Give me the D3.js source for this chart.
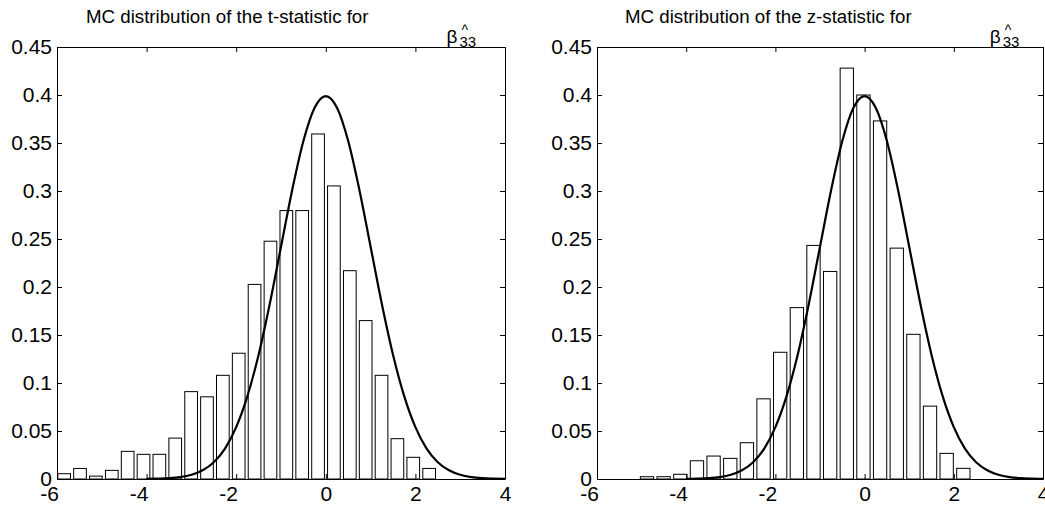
<!DOCTYPE html>
<html>
<head>
<meta charset="utf-8">
<script src="https://cdn.jsdelivr.net/npm/d3@7"></script>
<style>
  html, body { margin: 0; padding: 0; background: #fff; }
  svg { display: block; font-family: Arial, "Liberation Sans", Helvetica, sans-serif; }
</style>
</head>
<body>
<svg width="1045" height="510"></svg>
<script>
const xTicks = [-6, -4, -2, 0, 2, 4];
const xTickLabels = ['-6', '-4', '-2', '0', '2', '4'];
const yTicks = [0, 0.05, 0.1, 0.15, 0.2, 0.25, 0.3, 0.35, 0.4, 0.45];
const yTickLabels = ['0', '0.05', '0.1', '0.15', '0.2', '0.25', '0.3', '0.35', '0.4', '0.45'];

// t-statistic histogram (bin centres, density)
const tCenters = [-5.840, -5.486, -5.132, -4.777, -4.423, -4.069, -3.715, -3.361,
  -3.006, -2.652, -2.298, -1.944, -1.590, -1.235, -0.881, -0.527, -0.173, 0.181,
  0.536, 0.890, 1.244, 1.598, 1.952, 2.307];
const tDensity = [0.0055, 0.011, 0.003, 0.009, 0.0288, 0.0257, 0.0257, 0.0426,
  0.091, 0.0856, 0.108, 0.131, 0.2027, 0.2477, 0.2796, 0.2796, 0.3594, 0.3053,
  0.217, 0.165, 0.108, 0.042, 0.0226, 0.011];

// z-statistic histogram
const zCenters = [-4.879, -4.506, -4.132, -3.759, -3.386, -3.012, -2.639, -2.266,
  -1.893, -1.519, -1.146, -0.773, -0.399, -0.026, 0.347, 0.721, 1.094, 1.467,
  1.840, 2.214];
const zDensity = [0.0024, 0.0024, 0.0049, 0.019, 0.0239, 0.0215, 0.0378, 0.0835,
  0.132, 0.1785, 0.2433, 0.2162, 0.428, 0.400, 0.373, 0.2405, 0.1507, 0.0759,
  0.0267, 0.0111];

// normal density curve
const curveX = [-4, -3.75, -3.5, -3.25, -3, -2.75, -2.5, -2.25, -2, -1.75, -1.5,
  -1.25, -1, -0.75, -0.5, -0.25, 0, 0.25, 0.5, 0.75, 1, 1.25, 1.5, 1.75, 2, 2.25,
  2.5, 2.75, 3, 3.25, 3.5, 3.75, 4];
const curveY = [0.0001, 0.0004, 0.0009, 0.002, 0.0044, 0.0091, 0.0175, 0.0317,
  0.054, 0.0863, 0.1295, 0.1826, 0.242, 0.3011, 0.3521, 0.3867, 0.3989, 0.3867,
  0.3521, 0.3011, 0.242, 0.1826, 0.1295, 0.0863, 0.054, 0.0317, 0.0175, 0.0091,
  0.0044, 0.002, 0.0009, 0.0004, 0.0001];

const panels = [
  {title: 'MC distribution of the t-statistic for', centers: tCenters, dens: tDensity, left: 57, right: 505},
  {title: 'MC distribution of the z-statistic for', centers: zCenters, dens: zDensity, left: 597, right: 1043},
];

const plotTop = 47, plotBottom = 479;
const tickLen = 5;

const svg = d3.select('svg');

panels.forEach(p => {
  const x = d3.scaleLinear().domain([-6, 4]).range([p.left, p.right]);
  const y = d3.scaleLinear().domain([0, 0.45]).range([plotBottom, plotTop]);
  const g = svg.append('g');

  // bars, matlab bar width 0.8 of the bin
  const step = p.centers[1] - p.centers[0];
  const bw = x(step * 0.8) - x(0);
  g.append('g').selectAll('rect')
    .data(p.centers)
    .join('rect')
    .attr('x', (d) => x(d) - bw / 2)
    .attr('y', (d, i) => y(p.dens[i]))
    .attr('width', bw)
    .attr('height', (d, i) => y(0) - y(p.dens[i]))
    .attr('fill', '#fff')
    .attr('stroke', '#000')
    .attr('stroke-width', 1);

  // normal curve
  const line = d3.line()
    .curve(d3.curveMonotoneX)
    .x((d, i) => x(d))
    .y((d, i) => y(curveY[i]));
  g.append('path')
    .datum(curveX)
    .attr('d', line)
    .attr('fill', 'none')
    .attr('stroke', '#000')
    .attr('stroke-width', 2.2)
    .attr('stroke-linejoin', 'round');

  // axes, ticks pointing inward like matlab
  const fmtX = d => xTickLabels[xTicks.indexOf(d)];
  const fmtY = d => yTickLabels[yTicks.indexOf(d)];

  const ax = [
    ['b', d3.axisBottom(x).tickValues(xTicks).tickFormat(fmtX).tickPadding(7), `translate(0,${plotBottom})`],
    ['t', d3.axisTop(x).tickValues(xTicks).tickFormat(''), `translate(0,${plotTop})`],
    ['l', d3.axisLeft(y).tickValues(yTicks).tickFormat(fmtY).tickPadding(5), `translate(${p.left},0)`],
    ['r', d3.axisRight(y).tickValues(yTicks).tickFormat(''), `translate(${p.right},0)`],
  ];
  ax.forEach(([side, a, tr]) => {
    const s = g.append('g')
      .attr('transform', tr)
      .call(a.tickSizeInner(-tickLen).tickSizeOuter(0));
    s.select('.domain').attr('stroke', '#000').attr('stroke-width', 1);
    s.selectAll('.tick line').attr('stroke', '#000');
    s.selectAll('.tick text')
      .attr('font-size', 21)
      .attr('font-family', 'Arial, "Liberation Sans", sans-serif')
      .attr('fill', '#000');
    if (side === 'b') {
      // matlab pushes the negative labels a bit to the left
      s.selectAll('.tick text').attr('dx', d => d < 0 ? -8 : 0);
    }
  });

  // title with beta hat 33
  const cx = (p.left + p.right) / 2;
  const tx = cx - 195;
  const t = g.append('text')
    .attr('x', tx)
    .attr('y', 23)
    .attr('font-size', 18.7)
    .attr('fill', '#000')
    .text(p.title);
  const bx = tx + t.node().getComputedTextLength() + 78;
  g.append('text')
    .attr('x', bx)
    .attr('y', 43)
    .attr('font-size', 19)
    .text('β');
  g.append('text')
    .attr('x', bx + 15)
    .attr('y', 35)
    .attr('font-size', 14)
    .text('^');
  g.append('text')
    .attr('x', bx + 13)
    .attr('y', 47)
    .attr('font-size', 15)
    .text('33');
});
</script>
</body>
</html>
